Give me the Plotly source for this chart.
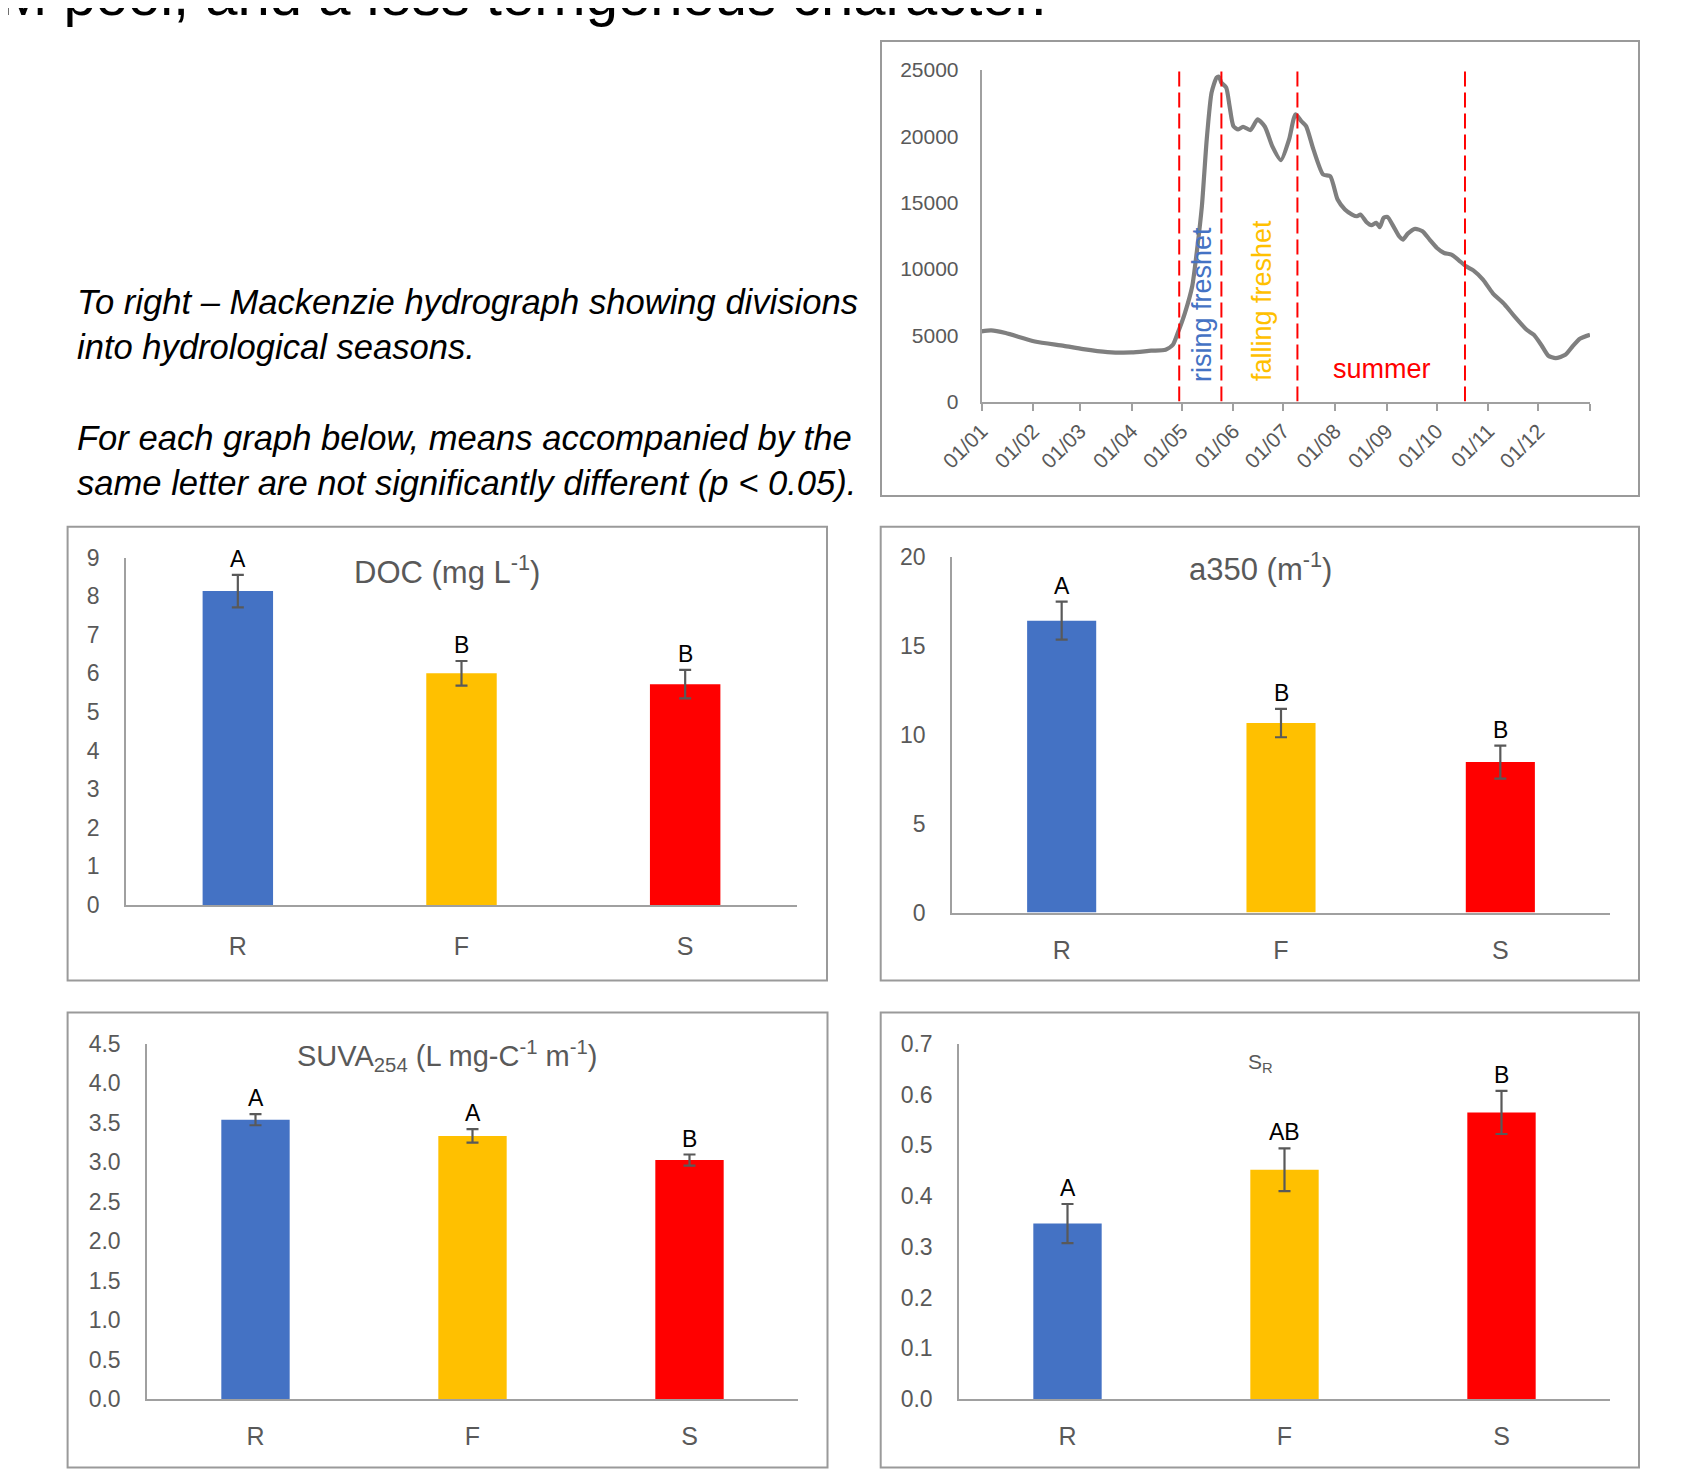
import plotly.graph_objects as go

W, H = 1682, 1470
OFF = 8  # page body margin around the plot div

# ---------------- data ----------------
categories = ["R", "F", "S"]
bar_colors = ["#4472c4", "#ffc000", "#ff0000"]

doc_mean = [8.13, 6.00, 5.72]
doc_err = [0.42, 0.32, 0.37]
doc_letters = ["A", "B", "B"]

a350_mean = [16.42, 10.66, 8.46]
a350_err = [1.07, 0.80, 0.93]
a350_letters = ["A", "B", "B"]

suva_mean = [3.535, 3.33, 3.025]
suva_err = [0.07, 0.085, 0.07]
suva_letters = ["A", "A", "B"]

sr_mean = [0.346, 0.452, 0.565]
sr_err = [0.0385, 0.042, 0.0425]
sr_letters = ["A", "AB", "B"]

# Mackenzie hydrograph (day of year, discharge)
flow_day = [0, 5.8, 14.5, 32, 49.4, 61, 75.6, 90, 101.7, 110.4, 114.8, 117.7, 122, 126.4,
            129.3, 132.2, 135.1, 138, 141, 142.4, 143.9, 146.8, 148.8, 151.1, 154, 156.9,
            161.3, 165.6, 170, 174.4, 179.6, 184.5, 188.3, 191.8, 194.7, 199.1, 204.9,
            209.2, 213.6, 218, 222.3, 225.2, 227.3, 231, 233.9, 236.8, 238.9, 241.2,
            243.5, 247, 250.5, 252.8, 255.7, 260.1, 264.5, 268.8, 273.2, 277.5, 281.9,
            286.3, 290.6, 295, 300.8, 306.6, 313.9, 319.7, 327, 331.3, 335.7, 340, 344.4,
            350.2, 354.5, 358.9, 365]
flow_value = [5290, 5360, 5160, 4530, 4200, 3950, 3730, 3700, 3830, 3900, 4280, 5160, 6670,
              8690, 11450, 14730, 19760, 23290, 24420, 24500, 24040, 23670, 22280, 20770,
              20520, 20720, 20470, 21270, 20720, 19260, 18200, 19760, 21650, 21150, 20770,
              19010, 17120, 16990, 15230, 14480, 14100, 13970, 14100, 13520, 13290, 13470,
              13140, 13850, 13920, 13220, 12460, 12210, 12660, 13020, 12840, 12210, 11580,
              11200, 11080, 10650, 10200, 9890, 9190, 8180, 7300, 6420, 5410, 5030, 4280,
              3450, 3270, 3520, 4150, 4730, 5030]
month_tick_days = [0, 31, 59, 90, 120, 151, 181, 212, 243, 273, 304, 334, 365]
month_tick_labels = ["01/01", "01/02", "01/03", "01/04", "01/05", "01/06", "01/07",
                     "01/08", "01/09", "01/10", "01/11", "01/12", " "]
season_bounds_day = [118.6, 143.9, 189.5, 290]
flow_ticks = [0, 5000, 10000, 15000, 20000, 25000]

# ---------------- helpers (page pixel -> paper fraction) ----------------
def fx(p):
    return (p - OFF) / W


def fy(p):
    return 1 - (p - OFF) / H


FONT = "Liberation Sans, Arial, sans-serif"
GREY_TXT = "#595959"
AXIS_COL = "#a0a0a0"

fig = go.Figure()

# ---- hydrograph ----
fig.add_trace(go.Scatter(x=flow_day, y=flow_value, mode="lines",
                         line=dict(color="#7f7f7f", width=4.2, shape="spline", smoothing=0.6),
                         xaxis="x", yaxis="y", showlegend=False, hoverinfo="skip"))

panels = [
    # name, mean, err, letters, xdom(px), ydom(px: y0, ytop), yrange, dtick, tickformat, xstandoff
    ("2", doc_mean, doc_err, doc_letters, (126, 797), (905, 557.5), [0, 9], 1, None, 18),
    ("3", a350_mean, a350_err, a350_letters, (952, 1610), (912.5, 557), [0, 20], 5, None, 14),
    ("4", suva_mean, suva_err, suva_letters, (147, 798), (1399, 1043.5), [0, 4.5], 0.5, ".1f", 14),
    ("5", sr_mean, sr_err, sr_letters, (959, 1610), (1399, 1044), [0, 0.7], 0.1, ".1f", 14),
]

layout_axes = {}
annotations = []

for name, mean, err, letters, xd, yd, yr, dt, tf, xso in panels:
    fig.add_trace(go.Bar(x=categories, y=mean, marker=dict(color=bar_colors, line=dict(width=0)),
                         width=0.315,
                         error_y=dict(type="data", array=err, color=GREY_TXT, thickness=2.2, width=6),
                         xaxis="x" + name, yaxis="y" + name, showlegend=False, hoverinfo="skip"))
    layout_axes["xaxis" + name] = dict(domain=[fx(xd[0]), fx(xd[1])], anchor="y" + name,
                                       type="category", range=[-0.5, 2.5], automargin=False,
                                       showline=True, linecolor=AXIS_COL, linewidth=2,
                                       showgrid=False, zeroline=False, ticks="",
                                       tickfont=dict(family=FONT, size=25, color=GREY_TXT),
                                       ticklabelstandoff=xso, fixedrange=True)
    ya = dict(domain=[fy(yd[0]), fy(yd[1])], anchor="x" + name, range=yr, dtick=dt, tick0=0,
              showline=True, linecolor=AXIS_COL, linewidth=1.5, automargin=False,
              showgrid=False, zeroline=False, ticks="",
              tickfont=dict(family=FONT, size=23, color=GREY_TXT),
              ticklabelstandoff=20, fixedrange=True)
    if tf:
        ya["tickformat"] = tf
    layout_axes["yaxis" + name] = ya
    for c, m, e, lt in zip(categories, mean, err, letters):
        annotations.append(dict(x=c, y=m + e, xref="x" + name, yref="y" + name, text=lt,
                                showarrow=False, yanchor="middle", yshift=16,
                                font=dict(family=FONT, size=23, color="#000000")))

layout_axes["xaxis"] = dict(domain=[fx(981.5), fx(1590)], anchor="y", range=[0, 365],
                            tickvals=month_tick_days, ticktext=month_tick_labels,
                            tickangle=-45, ticks="outside", ticklen=7, tickcolor=AXIS_COL,
                            tickwidth=1.5, showline=True, linecolor=AXIS_COL, linewidth=2,
                            showgrid=False, zeroline=False, automargin=False,
                            tickfont=dict(family=FONT, size=21, color=GREY_TXT), fixedrange=True)
layout_axes["yaxis"] = dict(domain=[fy(401.5), fy(70)], anchor="x", range=[0, 25000],
                            tickvals=flow_ticks, ticktext=[str(v) for v in flow_ticks],
                            ticks="", showline=True, linecolor=AXIS_COL, automargin=False,
                            linewidth=1.5, showgrid=False, zeroline=False,
                            tickfont=dict(family=FONT, size=21, color=GREY_TXT),
                            ticklabelstandoff=17, fixedrange=True)

shapes = []
# panel boxes
for (x0, y0, x1, y1) in [(881, 41, 1639, 496), (67.6, 526.7, 827, 980.5),
                         (880.7, 526.7, 1639, 980.5), (67.6, 1012.6, 827.5, 1467.5),
                         (880.7, 1012.6, 1639, 1467.5)]:
    shapes.append(dict(type="rect", xref="paper", yref="paper", x0=fx(x0), x1=fx(x1),
                       y0=fy(y1), y1=fy(y0), line=dict(color="#9a9a9a", width=2),
                       fillcolor="rgba(0,0,0,0)", layer="below"))
# season boundaries
for d in season_bounds_day:
    shapes.append(dict(type="line", xref="x", yref="y", x0=d, x1=d, y0=0, y1=25000,
                       line=dict(color="#ff0000", width=2, dash="15px,6px")))

# titles
titles = [
    dict(x=fx(447), y=fy(570), text="DOC (mg L<sup>-1</sup>)", size=31),
    dict(x=fx(1260), y=fy(567), text="a350 (m<sup>-1</sup>)", size=31),
    dict(x=fx(447), y=fy(1056), text="SUVA<sub>254</sub> (L mg-C<sup>-1</sup> m<sup>-1</sup>)",
         size=29),
    dict(x=fx(1260.5), y=fy(1063), text="S<sub>R</sub>", size=21),
]
for a in titles:
    sz = a.pop("size")
    a.update(xref="paper", yref="paper", showarrow=False, xanchor="center", yanchor="middle",
             font=dict(family=FONT, size=sz, color=GREY_TXT))
    annotations.append(a)

# season labels
seasons = [
    dict(x=fx(1202), y=fy(305), text="rising freshet", textangle=-90,
         font=dict(family=FONT, size=27, color="#4472c4")),
    dict(x=fx(1262), y=fy(301), text="falling freshet", textangle=-90,
         font=dict(family=FONT, size=27, color="#ffc000")),
    dict(x=fx(1381.7), y=fy(369), text="summer",
         font=dict(family=FONT, size=27, color="#ff0000")),
]
for a in seasons:
    a.update(xref="paper", yref="paper", showarrow=False, xanchor="center", yanchor="middle")
    annotations.append(a)

# slide text
slide_lines = [
    ("<i>To right – Mackenzie hydrograph showing divisions</i>", 302),
    ("<i>into hydrological seasons.</i>", 347),
    ("<i>For each graph below, means accompanied by the</i>", 437.5),
    ("<i>same letter are not significantly different (p &lt; 0.05).</i>", 483),
]
for t, yc in slide_lines:
    annotations.append(dict(x=fx(75), y=fy(yc), xref="paper", yref="paper", text=t,
                            showarrow=False, xanchor="left", yanchor="middle",
                            font=dict(family=FONT, size=34.6, color="#000000")))
annotations.append(dict(x=fx(1049), y=fy(-5), xref="paper", yref="paper",
                        text="DOM pool, and a less terrigenous character.",
                        showarrow=False, xanchor="right", yanchor="middle",
                        font=dict(family=FONT, size=58, color="#000000")))

fig.update_layout(template="none", width=W, height=H, autosize=False,
                  margin=dict(l=0, r=0, t=0, b=0, pad=0),
                  paper_bgcolor="white", plot_bgcolor="white", showlegend=False,
                  shapes=shapes, annotations=annotations, bargap=0.5, **layout_axes)

fig.write_html("out.html")
